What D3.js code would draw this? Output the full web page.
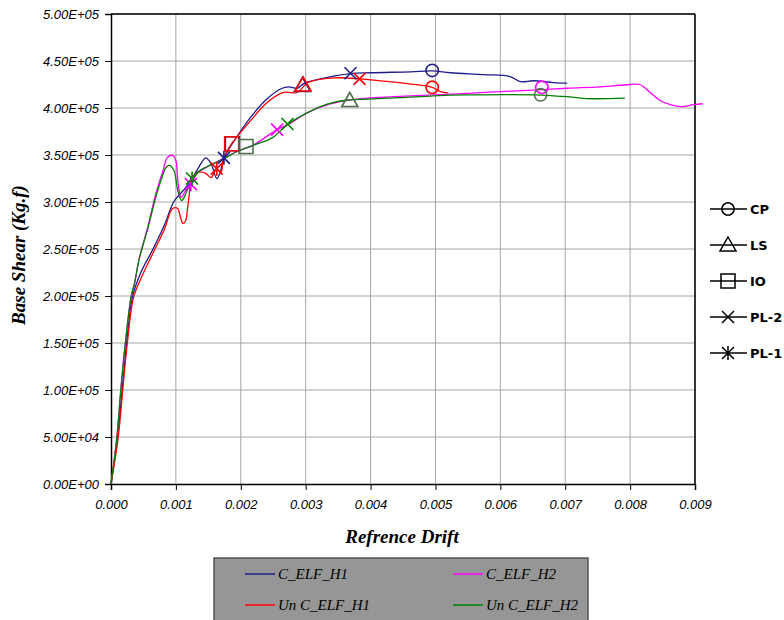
<!DOCTYPE html>
<html>
<head>
<meta charset="utf-8">
<script src="https://cdn.jsdelivr.net/npm/d3@7"></script>
<style>
  body { margin: 0; background: #fff; }
  .grid line { stroke: #a6a6a6; stroke-width: 1; }
  .axis text { font-family: "Liberation Sans", Arial, sans-serif; font-style: italic; font-size: 13px; fill: #000; }
  .axis path, .axis line { stroke: #000; }
  .line { fill: none; stroke-width: 1.3; }
</style>
</head>
<body>
<div id="chart"></div>
<script>
(function(){

// ---- data: [drift, base shear] ----
var cH1 = [[0,0],[0.0001,49000],[0.00017,99000],[0.00024,149000],[0.00033,199000],[0.00046,225000],
  [0.00064,249000],[0.00082,275000],[0.00097,300500],[0.00111,312000],[0.00123,322500],[0.00134,335500],
  [0.00146,347000],[0.00154,341000],[0.00163,325000],[0.00168,331000],[0.00174,347000],[0.00187,362000],
  [0.00215,390000],[0.00241,410000],[0.00262,420500],[0.00274,422500],[0.00287,421000],[0.00297,426000],
  [0.00323,431000],[0.00369,436500],[0.0040,437500],[0.00462,438500],[0.00495,439500],[0.00523,437500],
  [0.00574,435500],[0.00615,433500],[0.00631,428000],[0.00651,429000],[0.00682,427000],[0.00703,426500]];

var cH2 = [[0,0],[0.00009,49000],[0.00015,99000],[0.00022,149000],[0.00031,199000],[0.00036,212500],
  [0.00044,241000],[0.00057,274500],[0.00069,308500],[0.0008,333000],[0.00087,347500],[0.00095,349500],
  [0.001,344000],[0.00103,322500],[0.00108,305000],[0.00115,312000],[0.00123,319000],[0.00134,331500],
  [0.00146,336500],[0.00172,346000],[0.00197,354500],[0.00218,360000],[0.00256,377000],[0.00272,382000],
  [0.00303,395000],[0.00334,403500],[0.00365,408000],[0.00395,410500],[0.00436,412000],[0.00497,414000],
  [0.00549,415500],[0.006,417500],[0.00651,419000],[0.00703,421000],[0.00754,422500],[0.008,425000],
  [0.00815,425000],[0.00831,416500],[0.00846,408000],[0.00862,403500],[0.0088,401500],[0.00897,403500],
  [0.00912,404500]];

var unH1 = [[0,0],[0.00011,49000],[0.00018,99000],[0.00025,149000],[0.00035,199000],[0.00048,221500],
  [0.00065,246000],[0.00082,270500],[0.00095,293000],[0.00103,293000],[0.00106,286500],[0.00111,277000],
  [0.00115,280000],[0.00118,293000],[0.00121,310500],[0.00123,321000],[0.00133,331500],[0.00146,330500],
  [0.00154,326000],[0.00163,335500],[0.00169,330500],[0.00174,347000],[0.00186,362000],[0.00215,386500],
  [0.00241,406000],[0.00266,416500],[0.00287,416500],[0.00296,422500],[0.00303,427000],[0.00343,432000],
  [0.00383,431000],[0.0042,428500],[0.00462,425500],[0.00495,422000],[0.00508,417500],[0.0052,416000]];

var unH2 = [[0,0],[0.00009,49000],[0.00015,99000],[0.00022,149000],[0.00031,199000],[0.00036,213000],
  [0.00044,241000],[0.00057,272500],[0.00069,305000],[0.00077,323000],[0.00085,337000],[0.0009,339000],
  [0.00097,333500],[0.00103,312000],[0.00109,301500],[0.00115,308500],[0.00125,324500],[0.00133,331500],
  [0.00146,337000],[0.00172,345500],[0.00197,354500],[0.00218,360000],[0.00249,368500],[0.00272,382500],
  [0.00303,395000],[0.00333,404000],[0.00364,408500],[0.00395,409500],[0.00446,411000],[0.00497,413000],
  [0.00549,414000],[0.00651,414000],[0.00682,413000],[0.00703,412000],[0.00733,410000],[0.00792,410500]];

// performance level points: [drift, shear, level]
var cH1Levels  = [[0.00174,347000,"PL-1"],[0.00187,362000,"IO"],[0.00295,424000,"LS"],[0.00369,437000,"PL-2"],[0.00495,440000,"CP"]];
var cH2Levels  = [[0.00123,319000,"PL-1"],[0.00256,377000,"PL-2"],[0.00664,422000,"CP"]];
var unH1Levels = [[0.00163,335500,"PL-1"],[0.00186,362000,"IO"],[0.00296,424500,"LS"],[0.00383,431000,"PL-2"],[0.00495,422000,"CP"]];
var unH2Levels = [[0.00125,325000,"PL-1"],[0.00208,359000,"IO"],[0.00272,383000,"PL-2"],[0.00368,408000,"LS"],[0.00662,414000,"CP"]];

var seriesNames = ["C_ELF_H1", "C_ELF_H2", "Un C_ELF_H1", "Un C_ELF_H2"];
var levelNames = ["CP", "LS", "IO", "PL-2", "PL-1"];
var xTicks = [0, 0.001, 0.002, 0.003, 0.004, 0.005, 0.006, 0.007, 0.008, 0.009];
var yTicks = [0, 50000, 100000, 150000, 200000, 250000, 300000, 350000, 400000, 450000, 500000];

var series = [
  {name: seriesNames[0], data: cH1,  levels: cH1Levels,  color: "#1c1c8c", mark: "#1c1c8c", cross: "#1c1c8c"},
  {name: seriesNames[1], data: cH2,  levels: cH2Levels,  color: "#ff00ff", mark: "#ff00ff", cross: "#ff00ff"},
  {name: seriesNames[2], data: unH1, levels: unH1Levels, color: "#ff0000", mark: "#ff0000", cross: "#ff0000"},
  {name: seriesNames[3], data: unH2, levels: unH2Levels, color: "#008000", mark: "#4f6f4f", cross: "#008000"}
];

var W = 784, H = 620;
var svg = d3.select("#chart").append("svg").attr("width", W).attr("height", H);

var x = d3.scaleLinear().domain([0, 0.009]).range([111, 695]);
var y = d3.scaleLinear().domain([0, 500000]).range([484, 14]);

// grid
var grid = svg.append("g").attr("class", "grid");
grid.selectAll("line.v").data(xTicks.slice(1)).enter().append("line")
  .attr("x1", function(d){ return x(d); }).attr("x2", function(d){ return x(d); })
  .attr("y1", y(0)).attr("y2", y(500000));
grid.selectAll("line.h").data(yTicks.slice(1)).enter().append("line")
  .attr("x1", x(0)).attr("x2", x(0.009))
  .attr("y1", function(d){ return y(d); }).attr("y2", function(d){ return y(d); });

// frame top / right
svg.append("line").attr("x1", x(0)).attr("x2", x(0.009)).attr("y1", y(500000)).attr("y2", y(500000))
  .style("stroke", "#000").style("stroke-width", 1.5);
svg.append("line").attr("x1", x(0.009)).attr("x2", x(0.009)).attr("y1", y(0)).attr("y2", y(500000))
  .style("stroke", "#000").style("stroke-width", 1.5);

var expFmt = function(d) {
  return d.toExponential(2).toUpperCase().replace(/E([+-])(\d)$/, "E$10$2");
};

svg.append("g").attr("class", "axis")
  .attr("transform", "translate(" + x(0) + ",0)")
  .call(d3.axisLeft(y).tickValues(yTicks).tickFormat(expFmt).tickSize(6).tickPadding(6))
  .call(function(g){ g.select(".domain").style("stroke-width", 1.5); });

svg.append("g").attr("class", "axis")
  .attr("transform", "translate(0," + y(0) + ")")
  .call(d3.axisBottom(x).tickValues(xTicks).tickFormat(d3.format(".3f")).tickSize(6).tickPadding(10))
  .call(function(g){ g.select(".domain").style("stroke-width", 1.5); });

// axis titles
svg.append("text")
  .attr("transform", "translate(25,255) rotate(-90)")
  .attr("text-anchor", "middle")
  .style("font-family", "'Liberation Serif', 'Times New Roman', serif")
  .style("font-weight", "bold").style("font-style", "italic").style("font-size", "19px")
  .text("Base Shear (Kg.f)");

svg.append("text")
  .attr("x", 402).attr("y", 543)
  .attr("text-anchor", "middle")
  .style("font-family", "'Liberation Serif', 'Times New Roman', serif")
  .style("font-weight", "bold").style("font-style", "italic").style("font-size", "19px")
  .text("Refrence Drift");

// lines
var line = d3.line()
  .x(function(d){ return x(d[0]); })
  .y(function(d){ return y(d[1]); })
  .curve(d3.curveCatmullRom.alpha(0.5));

series.forEach(function(s) {
  svg.append("path").attr("class", "line").attr("d", line(s.data)).style("stroke", s.color);
});

// markers
function markerPath(level) {
  if (level === "CP") return d3.symbol().type(d3.symbolCircle).size(120)();
  if (level === "LS") return "M0,-8L8,6L-8,6Z";
  if (level === "IO") return "M-7,-7L7,-7L7,7L-7,7Z";
  if (level === "PL-2") return "M-6,-6L6,6M-6,6L6,-6";
  return "M-6,-6L6,6M-6,6L6,-6M0,-7L0,7";
}

series.forEach(function(s) {
  svg.append("g").selectAll("path").data(s.levels).enter().append("path")
    .attr("transform", function(d){ return "translate(" + x(d[0]) + "," + y(d[1]) + ")"; })
    .attr("d", function(d){ return markerPath(d[2]); })
    .style("fill", "none")
    .style("stroke", function(d){ return d[2].indexOf("PL") === 0 ? s.cross : s.mark; })
    .style("stroke-width", 1.6);
});

// right legend for performance levels
var lg = svg.append("g");
levelNames.forEach(function(n, i) {
  var yy = 209 + i * 36;
  lg.append("line").attr("x1", 710).attr("x2", 747).attr("y1", yy).attr("y2", yy)
    .style("stroke", "#000").style("stroke-width", 1.3);
  lg.append("path").attr("transform", "translate(728," + yy + ")").attr("d", markerPath(n))
    .style("fill", "none").style("stroke", "#000").style("stroke-width", 1.5);
  lg.append("text").attr("x", 750).attr("y", yy + 5)
    .style("font-family", "'DejaVu Sans', sans-serif").style("font-weight", "bold").style("font-size", "13px")
    .text(n);
});

// bottom legend for series
var bl = svg.append("g");
bl.append("rect").attr("x", 214).attr("y", 558).attr("width", 374).attr("height", 70)
  .style("fill", "#969696").style("stroke", "#555").style("stroke-width", 1.5);
series.forEach(function(s, i) {
  var lx = i % 2 === 0 ? 245 : 453;
  var ly = i < 2 ? 574 : 605;
  bl.append("line").attr("x1", lx).attr("x2", lx + 30).attr("y1", ly).attr("y2", ly)
    .style("stroke", s.color).style("stroke-width", 1.5);
  bl.append("text").attr("x", lx + 33).attr("y", ly + 5)
    .style("font-family", "'Liberation Serif', 'Times New Roman', serif")
    .style("font-style", "italic").style("font-size", "15px")
    .text(s.name);
});

})();
</script>
</body>
</html>
